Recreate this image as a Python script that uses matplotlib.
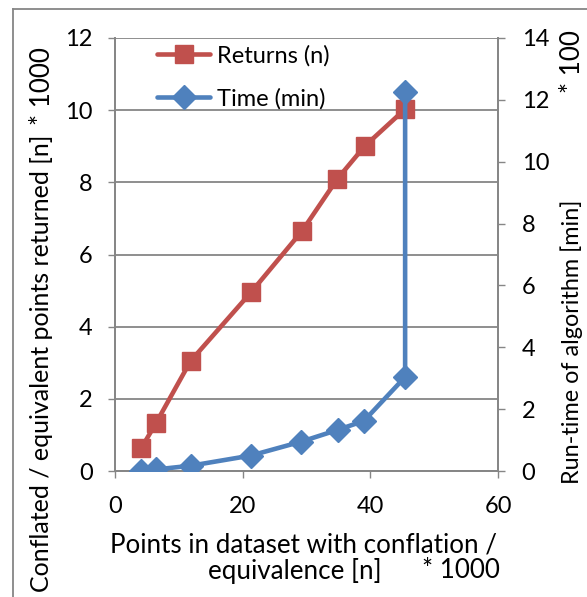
import matplotlib
matplotlib.use("Agg")
import matplotlib.pyplot as plt
from matplotlib.lines import Line2D

plt.rcParams['font.family'] = ['Lato', 'DejaVu Sans']

# Dataset size (thousands of points)
points_k = [4.1, 6.4, 11.85, 21.3, 29.3, 34.85, 39.1, 45.45]
# Conflated / equivalent points returned (thousands)
returns_k = [0.63, 1.32, 3.05, 4.95, 6.65, 8.1, 9.0, 10.03]
# Run-time of the algorithm (hundreds of minutes); last point repeats x
time_x = [4.1, 6.4, 11.85, 21.3, 29.2, 34.9, 39.0, 45.45, 45.45]
time_h = [0.0, 0.05, 0.17, 0.5, 0.95, 1.33, 1.62, 3.04, 12.27]

x_ticks = [0, 20, 40, 60]
left_ticks = [0, 2, 4, 6, 8, 10, 12]
right_ticks = [0, 2, 4, 6, 8, 10, 12, 14]

RED = '#C0504D'
BLUE = '#4F81BD'
GRAY = '#868686'

TICK_FS = 17
TITLE_FS = 18.7

W, H = 587, 597
fig = plt.figure(figsize=(W / 100, H / 100), dpi=100)


def fx(px):
    return px / W


def fy(py):
    return 1 - py / H


ax = fig.add_axes([fx(115), fy(471), fx(498) - fx(115), fy(38) - fy(471)])
ax2 = ax.twinx()

ax.set_xlim(0, 60)
ax.set_ylim(0, 12)
ax2.set_ylim(0, 14)
ax.set_xticks(x_ticks)
ax.set_yticks(left_ticks)
ax2.set_yticks(right_ticks)

ax.grid(axis='y', color=GRAY, linewidth=1.3)
ax.set_axisbelow(True)

for a in (ax, ax2):
    a.spines['top'].set_visible(False)
    for side in ('left', 'right', 'bottom'):
        a.spines[side].set_color(GRAY)
        a.spines[side].set_linewidth(1.3)
    a.tick_params(direction='out', length=5, width=1.0, color=GRAY,
                  labelsize=TICK_FS, labelcolor='black')

ax.tick_params(axis='x', pad=13)
ax.tick_params(axis='y', pad=11)
ax2.tick_params(axis='y', pad=12)

ax.plot(points_k, returns_k, color=RED, linewidth=3.3, marker='s',
        markersize=13.5, markerfacecolor=RED, markeredgecolor=RED,
        solid_joinstyle='round', solid_capstyle='round', zorder=3)
ax2.plot(time_x, time_h, color=BLUE, linewidth=3.3, marker='D',
         markersize=12, markerfacecolor=BLUE, markeredgecolor=BLUE,
         solid_joinstyle='round', solid_capstyle='round', zorder=3)

handles = [
    Line2D([], [], color=RED, linewidth=3.3, marker='s', markersize=13,
           solid_capstyle='round'),
    Line2D([], [], color=BLUE, linewidth=3.3, marker='D', markersize=12,
           solid_capstyle='round'),
]
ax2.legend(handles, ['Returns (n)', 'Time (min)'], loc='upper left',
           bbox_to_anchor=(fx(157), fy(45)), bbox_transform=fig.transFigure,
           frameon=False, fontsize=TICK_FS, handlelength=2.25,
           handletextpad=0.3, labelspacing=0.9, borderpad=0,
           borderaxespad=0)

# Axis titles
fig.text(fx(42), fy(592), 'Conflated / equivalent points returned [n]',
         rotation=90, ha='center', va='bottom', fontsize=18)
fig.text(fx(42), fy(47), '* 1000', rotation=90, ha='center', va='top',
         fontsize=TITLE_FS)
fig.text(fx(572), fy(200), 'Run-time of algorithm [min]', rotation=90,
         ha='center', va='top', fontsize=16.8)
fig.text(fx(572), fy(30), '* 100', rotation=90, ha='center', va='top',
         fontsize=TITLE_FS)
fig.text(fx(110), fy(545), 'Points in dataset with conflation /',
         ha='left', va='center', fontsize=TITLE_FS)
fig.text(fx(208), fy(571), 'equivalence [n]', ha='left', va='center',
         fontsize=TITLE_FS)
fig.text(fx(500), fy(571), '* 1000', ha='right', va='center',
         fontsize=TITLE_FS)

# Outer frame of the chart area
fig.add_artist(Line2D([fx(13), fx(13)], [0, fy(9)], color=GRAY,
                      linewidth=1.3, transform=fig.transFigure))
fig.add_artist(Line2D([fx(13), 1], [fy(9), fy(9)], color=GRAY,
                      linewidth=1.3, transform=fig.transFigure))

fig.savefig('out.png', dpi=100)
